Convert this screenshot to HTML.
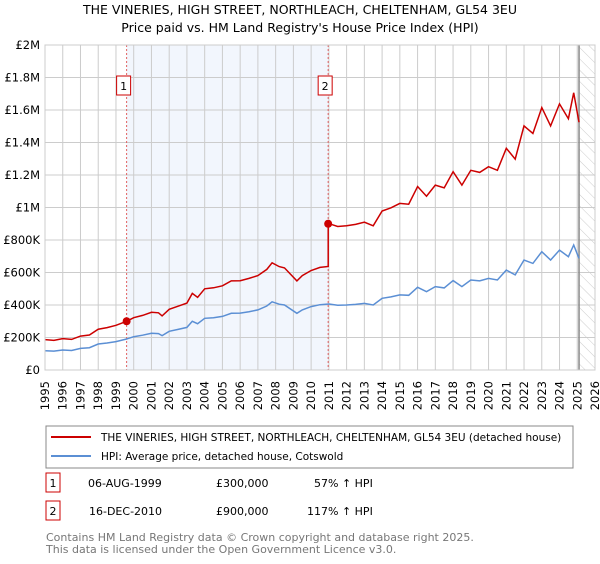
<!DOCTYPE html>
<html><head><meta charset="utf-8"><style>
body{margin:0;background:#fff;font-family:"DejaVu Sans","Liberation Sans",sans-serif;}
svg text{font-family:"DejaVu Sans","Liberation Sans",sans-serif;}
</style></head><body>
<svg id="chart" width="600" height="560" xmlns="http://www.w3.org/2000/svg">
<defs><pattern id="hatch" width="8" height="8" patternUnits="userSpaceOnUse" patternTransform="rotate(-45)"><line x1="0" y1="0" x2="0" y2="8" stroke="#ccc" stroke-width="1"/></pattern></defs>
<text x="300" y="14" text-anchor="middle" font-size="12.5">THE VINERIES, HIGH STREET, NORTHLEACH, CHELTENHAM, GL54 3EU</text>
<text x="300" y="32" text-anchor="middle" font-size="12.5">Price paid vs. HM Land Registry's House Price Index (HPI)</text>
<g id="plot"></g>
<rect x="46" y="426" width="527" height="42" fill="#fff" stroke="#888"/>
<line x1="51" y1="437" x2="91" y2="437" stroke="#cc0000" stroke-width="2"/>
<text x="101" y="441" font-size="10.5">THE VINERIES, HIGH STREET, NORTHLEACH, CHELTENHAM, GL54 3EU (detached house)</text>
<line x1="51" y1="456" x2="91" y2="456" stroke="#5b8fd4" stroke-width="2"/>
<text x="101" y="460" font-size="10.5">HPI: Average price, detached house, Cotswold</text>
<g font-size="11">
<rect x="46" y="473" width="14" height="19" fill="#fff" stroke="#cc0000"/><text x="53" y="487" text-anchor="middle">1</text>
<text x="88" y="487">06-AUG-1999</text><text x="216" y="487">£300,000</text><text x="314" y="487">57% ↑ HPI</text></g>
<g font-size="11">
<rect x="46" y="501" width="14" height="19" fill="#fff" stroke="#cc0000"/><text x="53" y="515" text-anchor="middle">2</text>
<text x="89" y="515">16-DEC-2010</text><text x="216" y="515">£900,000</text><text x="307" y="515">117% ↑ HPI</text></g>
<text x="46" y="541" font-size="11" fill="#777">Contains HM Land Registry data © Crown copyright and database right 2025.</text>
<text x="46" y="553" font-size="11" fill="#777">This data is licensed under the Open Government Licence v3.0.</text>
</svg>
<script>
const hpiYears=[1995,1995.5,1996,1996.5,1997,1997.5,1998,1998.5,1999,1999.6,2000,2000.5,2001,2001.4,2001.6,2002,2002.5,2003,2003.3,2003.6,2004,2004.5,2005,2005.5,2006,2006.5,2007,2007.5,2007.8,2008.2,2008.5,2009.2,2009.5,2010,2010.5,2011,2011.5,2012,2012.5,2013,2013.5,2014,2014.5,2015,2015.5,2016,2016.5,2017,2017.5,2018,2018.5,2019,2019.5,2020,2020.5,2021,2021.5,2022,2022.5,2023,2023.5,2024,2024.5,2024.8,2025.1];
const hpiValues=[119,116,123,120,133,137,160,166,175,191,205,214,226,224,212,238,250,262,300,285,318,322,330,349,350,359,370,394,420,405,400,349,370,390,402,406,398,400,404,410,400,441,450,462,460,509,482,513,505,550,513,554,548,564,554,615,585,677,656,728,677,738,697,769,687];
const saleYears=[1999.6,2010.96];
const salePrices=[300,900];
const yTicks=[0,200,400,600,800,1000,1200,1400,1600,1800,2000];
const yTickLabels=["£0","£200K","£400K","£600K","£800K","£1M","£1.2M","£1.4M","£1.6M","£1.8M","£2M"];
const xTicks=[1995,1996,1997,1998,1999,2000,2001,2002,2003,2004,2005,2006,2007,2008,2009,2010,2011,2012,2013,2014,2015,2016,2017,2018,2019,2020,2021,2022,2023,2024,2025,2026];
const L=45,R=595,T=45,B=370,X0=1995,X1=2026,YMAX=2000;
const x=v=>L+(v-X0)/(X1-X0)*(R-L);
const y=v=>B-v/YMAX*(B-T);
const NS="http://www.w3.org/2000/svg";
const g=document.getElementById('plot');
function mk(tag,attrs){const e=document.createElementNS(NS,tag);for(const k in attrs)e.setAttribute(k,attrs[k]);g.appendChild(e);return e;}
let e;
e=mk('rect',{x:L,y:T,width:R-L,height:B-T,fill:'#fff'});


e=mk('rect',{x:x(saleYears[0]),y:T,width:x(saleYears[1])-x(saleYears[0]),height:B-T,fill:'#f2f6fd'});


e=mk('rect',{x:x(2025.1),y:T,width:R-x(2025.1),height:B-T,fill:'url(#hatch)'});


yTicks.forEach((t,i)=>{
 e=mk('line',{x1:L,x2:R,y1:y(t),y2:y(t),stroke:'#ccc'});
 
 
 e=mk('text',{x:L-5,y:y(t)+4,'text-anchor':'end','font-size':11.5});
 e.textContent=yTickLabels[i];
 
 
});
xTicks.forEach(t=>{
 e=mk('line',{x1:x(t),x2:x(t),y1:T,y2:B,stroke:'#ccc'});
 
 
 e=mk('text',{x:0,y:0,'text-anchor':'end','font-size':11.5,transform:`translate(${x(t)+4},${B+11}) rotate(-90)`});
 e.textContent=String(t);
 
 
});
e=mk('line',{x1:x(2025.1),x2:x(2025.1),y1:T,y2:B,stroke:'#888','stroke-width':1.5});


saleYears.forEach((s,i)=>{
 e=mk('line',{x1:x(s),x2:x(s),y1:T,y2:B,stroke:'#e06060','stroke-dasharray':'2,2'});
 
 
 e=mk('rect',{x:x(s)-10,y:76,width:14,height:19,fill:'#fff',stroke:'#cc0000'});
 
 
 e=mk('text',{x:x(s)-3,y:90,'text-anchor':'middle','font-size':11});
 e.textContent=String(i+1);
 
 
});
function hpiAt(t){for(let i=1;i<hpiYears.length;i++){if(t<=hpiYears[i]){const f=(t-hpiYears[i-1])/(hpiYears[i]-hpiYears[i-1]);return hpiValues[i-1]+f*(hpiValues[i]-hpiValues[i-1]);}}return hpiValues[hpiValues.length-1];}
const r0=salePrices[0]/hpiAt(saleYears[0]), r1=salePrices[1]/hpiAt(saleYears[1]);
const bp=hpiYears.map((t,i)=>`${x(t).toFixed(1)},${y(hpiValues[i]).toFixed(1)}`).join(' ');
let rp=[];
hpiYears.forEach((t,i)=>{
 if(i>0&&hpiYears[i-1]<saleYears[1]&&t>=saleYears[1]){rp.push([saleYears[1],hpiAt(saleYears[1])*r0]);rp.push([saleYears[1],salePrices[1]]);}
 rp.push([t,hpiValues[i]*(t<saleYears[1]?r0:r1)]);
});
e=mk('polyline',{points:bp,fill:'none',stroke:'#5b8fd4','stroke-width':1.5});


e=mk('polyline',{points:rp.map(p=>`${x(p[0]).toFixed(1)},${y(p[1]).toFixed(1)}`).join(' '),fill:'none',stroke:'#cc0000','stroke-width':1.5});


saleYears.forEach((s,i)=>{
 e=mk('circle',{cx:x(s),cy:y(salePrices[i]),r:4,fill:'#cc0000'});
 
 
});
e=mk('rect',{x:L,y:T,width:R-L,height:B-T,fill:'none',stroke:'#ccc'});


</script>
</body></html>
